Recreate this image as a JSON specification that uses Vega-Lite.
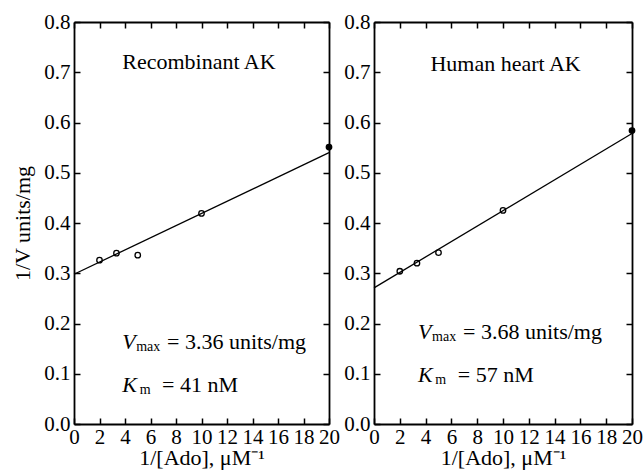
{
  "$schema": "https://vega.github.io/schema/vega-lite/v6.json",
  "background": "white",
  "padding": {"left": 11, "top": 11, "right": 2, "bottom": 2},
  "spacing": 45,
  "bounds": "flush",
  "datasets": {
    "pts": [
      {"panel": "A", "x": 2, "y": 0.326},
      {"panel": "A", "x": 3.33, "y": 0.340},
      {"panel": "A", "x": 5, "y": 0.336},
      {"panel": "A", "x": 10, "y": 0.419},
      {"panel": "A", "x": 20, "y": 0.551},
      {"panel": "B", "x": 2, "y": 0.304},
      {"panel": "B", "x": 3.33, "y": 0.320},
      {"panel": "B", "x": 5, "y": 0.341},
      {"panel": "B", "x": 10, "y": 0.425},
      {"panel": "B", "x": 20, "y": 0.584}
    ],
    "fits": [
      {"panel": "A", "x": 0, "y": 0.298},
      {"panel": "A", "x": 20, "y": 0.540},
      {"panel": "B", "x": 0, "y": 0.271},
      {"panel": "B", "x": 20, "y": 0.578}
    ],
    "notes": [
      {"panel": "A", "part": "title", "x": 9.8, "y": 0.706, "text": "Recombinant AK"},
      {"panel": "A", "part": "var", "x": 3.78, "y": 0.149, "text": "V"},
      {"panel": "A", "part": "sub", "x": 4.88, "y": 0.145, "text": "max"},
      {"panel": "A", "part": "rest", "x": 7.3, "y": 0.149, "text": "= 3.36 units/mg"},
      {"panel": "A", "part": "var", "x": 3.78, "y": 0.064, "text": "K"},
      {"panel": "A", "part": "sub", "x": 5.15, "y": 0.060, "text": "m"},
      {"panel": "A", "part": "rest", "x": 6.9, "y": 0.064, "text": "= 41 nM"},
      {"panel": "B", "part": "title", "x": 10.2, "y": 0.702, "text": "Human heart AK"},
      {"panel": "B", "part": "var", "x": 3.41, "y": 0.169, "text": "V"},
      {"panel": "B", "part": "sub", "x": 4.5, "y": 0.165, "text": "max"},
      {"panel": "B", "part": "rest", "x": 6.9, "y": 0.169, "text": "= 3.68 units/mg"},
      {"panel": "B", "part": "var", "x": 3.41, "y": 0.084, "text": "K"},
      {"panel": "B", "part": "sub", "x": 4.75, "y": 0.080, "text": "m"},
      {"panel": "B", "part": "rest", "x": 6.5, "y": 0.084, "text": "= 57 nM"}
    ]
  },
  "hconcat": [
    {
      "width": 255,
      "height": 402,
      "resolve": {"axis": {"x": "independent", "y": "independent"}},
      "layer": [
        {
          "data": {"name": "fits"},
          "transform": [{"filter": "datum.panel == 'A'"}],
          "mark": {"type": "line", "color": "black", "strokeWidth": 1.3},
          "encoding": {
            "x": {"field": "x", "type": "quantitative", "scale": {"domain": [0, 20], "nice": false, "zero": false},
                  "axis": {"orient": "bottom", "values": [0,2,4,6,8,10,12,14,16,18,20], "title": "1/[Ado], μM⁻¹"}},
            "y": {"field": "y", "type": "quantitative", "scale": {"domain": [0, 0.8], "nice": false, "zero": false},
                  "axis": {"orient": "left", "values": [0,0.1,0.2,0.3,0.4,0.5,0.6,0.7,0.8], "format": ".1f", "title": "1/V units/mg"}}
          }
        },
        {
          "data": {"name": "pts"},
          "transform": [{"filter": "datum.panel == 'A'"}],
          "mark": {"type": "point", "shape": "circle", "size": 30, "strokeWidth": 1.3, "stroke": "black", "opacity": 1},
          "encoding": {
            "x": {"field": "x", "type": "quantitative",
                  "axis": {"orient": "top", "values": [0,2,4,6,8,10,12,14,16,18,20], "labels": false, "title": null}},
            "y": {"field": "y", "type": "quantitative",
                  "axis": {"orient": "right", "values": [0,0.1,0.2,0.3,0.4,0.5,0.6,0.7,0.8], "labels": false, "title": null}},
            "fill": {"condition": {"test": "datum.x == 20", "value": "black"}, "value": "transparent"}
          }
        },
        {
          "data": {"name": "notes"},
          "transform": [{"filter": "datum.panel == 'A' && datum.part == 'title'"}],
          "mark": {"type": "text", "align": "center", "baseline": "alphabetic", "font": "Liberation Serif", "fontSize": 22, "color": "black"},
          "encoding": {"x": {"field": "x", "type": "quantitative", "axis": null}, "y": {"field": "y", "type": "quantitative", "axis": null}, "text": {"field": "text"}}
        },
        {
          "data": {"name": "notes"},
          "transform": [{"filter": "datum.panel == 'A' && datum.part == 'var'"}],
          "mark": {"type": "text", "align": "left", "baseline": "alphabetic", "font": "Liberation Serif", "fontStyle": "italic", "fontSize": 22, "color": "black"},
          "encoding": {"x": {"field": "x", "type": "quantitative", "axis": null}, "y": {"field": "y", "type": "quantitative", "axis": null}, "text": {"field": "text"}}
        },
        {
          "data": {"name": "notes"},
          "transform": [{"filter": "datum.panel == 'A' && datum.part == 'sub'"}],
          "mark": {"type": "text", "align": "left", "baseline": "alphabetic", "font": "Liberation Serif", "fontSize": 14, "color": "black"},
          "encoding": {"x": {"field": "x", "type": "quantitative", "axis": null}, "y": {"field": "y", "type": "quantitative", "axis": null}, "text": {"field": "text"}}
        },
        {
          "data": {"name": "notes"},
          "transform": [{"filter": "datum.panel == 'A' && datum.part == 'rest'"}],
          "mark": {"type": "text", "align": "left", "baseline": "alphabetic", "font": "Liberation Serif", "fontSize": 22, "color": "black"},
          "encoding": {"x": {"field": "x", "type": "quantitative", "axis": null}, "y": {"field": "y", "type": "quantitative", "axis": null}, "text": {"field": "text"}}
        }
      ]
    },
    {
      "width": 258,
      "height": 402,
      "resolve": {"axis": {"x": "independent", "y": "independent"}},
      "layer": [
        {
          "data": {"name": "fits"},
          "transform": [{"filter": "datum.panel == 'B'"}],
          "mark": {"type": "line", "color": "black", "strokeWidth": 1.3},
          "encoding": {
            "x": {"field": "x", "type": "quantitative", "scale": {"domain": [0, 20], "nice": false, "zero": false},
                  "axis": {"orient": "bottom", "values": [0,2,4,6,8,10,12,14,16,18,20], "title": "1/[Ado], μM⁻¹"}},
            "y": {"field": "y", "type": "quantitative", "scale": {"domain": [0, 0.8], "nice": false, "zero": false},
                  "axis": {"orient": "left", "values": [0,0.1,0.2,0.3,0.4,0.5,0.6,0.7,0.8], "format": ".1f", "title": null}}
          }
        },
        {
          "data": {"name": "pts"},
          "transform": [{"filter": "datum.panel == 'B'"}],
          "mark": {"type": "point", "shape": "circle", "size": 30, "strokeWidth": 1.3, "stroke": "black", "opacity": 1},
          "encoding": {
            "x": {"field": "x", "type": "quantitative",
                  "axis": {"orient": "top", "values": [0,2,4,6,8,10,12,14,16,18,20], "labels": false, "title": null}},
            "y": {"field": "y", "type": "quantitative",
                  "axis": {"orient": "right", "values": [0,0.1,0.2,0.3,0.4,0.5,0.6,0.7,0.8], "labels": false, "title": null}},
            "fill": {"condition": {"test": "datum.x == 20", "value": "black"}, "value": "transparent"}
          }
        },
        {
          "data": {"name": "notes"},
          "transform": [{"filter": "datum.panel == 'B' && datum.part == 'title'"}],
          "mark": {"type": "text", "align": "center", "baseline": "alphabetic", "font": "Liberation Serif", "fontSize": 22, "color": "black"},
          "encoding": {"x": {"field": "x", "type": "quantitative", "axis": null}, "y": {"field": "y", "type": "quantitative", "axis": null}, "text": {"field": "text"}}
        },
        {
          "data": {"name": "notes"},
          "transform": [{"filter": "datum.panel == 'B' && datum.part == 'var'"}],
          "mark": {"type": "text", "align": "left", "baseline": "alphabetic", "font": "Liberation Serif", "fontStyle": "italic", "fontSize": 22, "color": "black"},
          "encoding": {"x": {"field": "x", "type": "quantitative", "axis": null}, "y": {"field": "y", "type": "quantitative", "axis": null}, "text": {"field": "text"}}
        },
        {
          "data": {"name": "notes"},
          "transform": [{"filter": "datum.panel == 'B' && datum.part == 'sub'"}],
          "mark": {"type": "text", "align": "left", "baseline": "alphabetic", "font": "Liberation Serif", "fontSize": 14, "color": "black"},
          "encoding": {"x": {"field": "x", "type": "quantitative", "axis": null}, "y": {"field": "y", "type": "quantitative", "axis": null}, "text": {"field": "text"}}
        },
        {
          "data": {"name": "notes"},
          "transform": [{"filter": "datum.panel == 'B' && datum.part == 'rest'"}],
          "mark": {"type": "text", "align": "left", "baseline": "alphabetic", "font": "Liberation Serif", "fontSize": 22, "color": "black"},
          "encoding": {"x": {"field": "x", "type": "quantitative", "axis": null}, "y": {"field": "y", "type": "quantitative", "axis": null}, "text": {"field": "text"}}
        }
      ]
    }
  ],
  "config": {
    "view": {"stroke": null},
    "axis": {
      "grid": false,
      "domainColor": "black",
      "domainWidth": 1.8,
      "tickColor": "black",
      "tickWidth": 1.5,
      "tickSize": -6,
      "labelPadding": 10,
      "labelFont": "Liberation Serif",
      "labelFontSize": 21,
      "labelColor": "black",
      "labelFlush": false,
      "labelOverlap": false,
      "labelBound": false,
      "titleFont": "Liberation Serif",
      "titleFontSize": 22,
      "titleFontWeight": "normal",
      "titleColor": "black",
      "titlePadding": 9
    },
    "axisX": {"titlePadding": 0, "labelPadding": 8}
  }
}
